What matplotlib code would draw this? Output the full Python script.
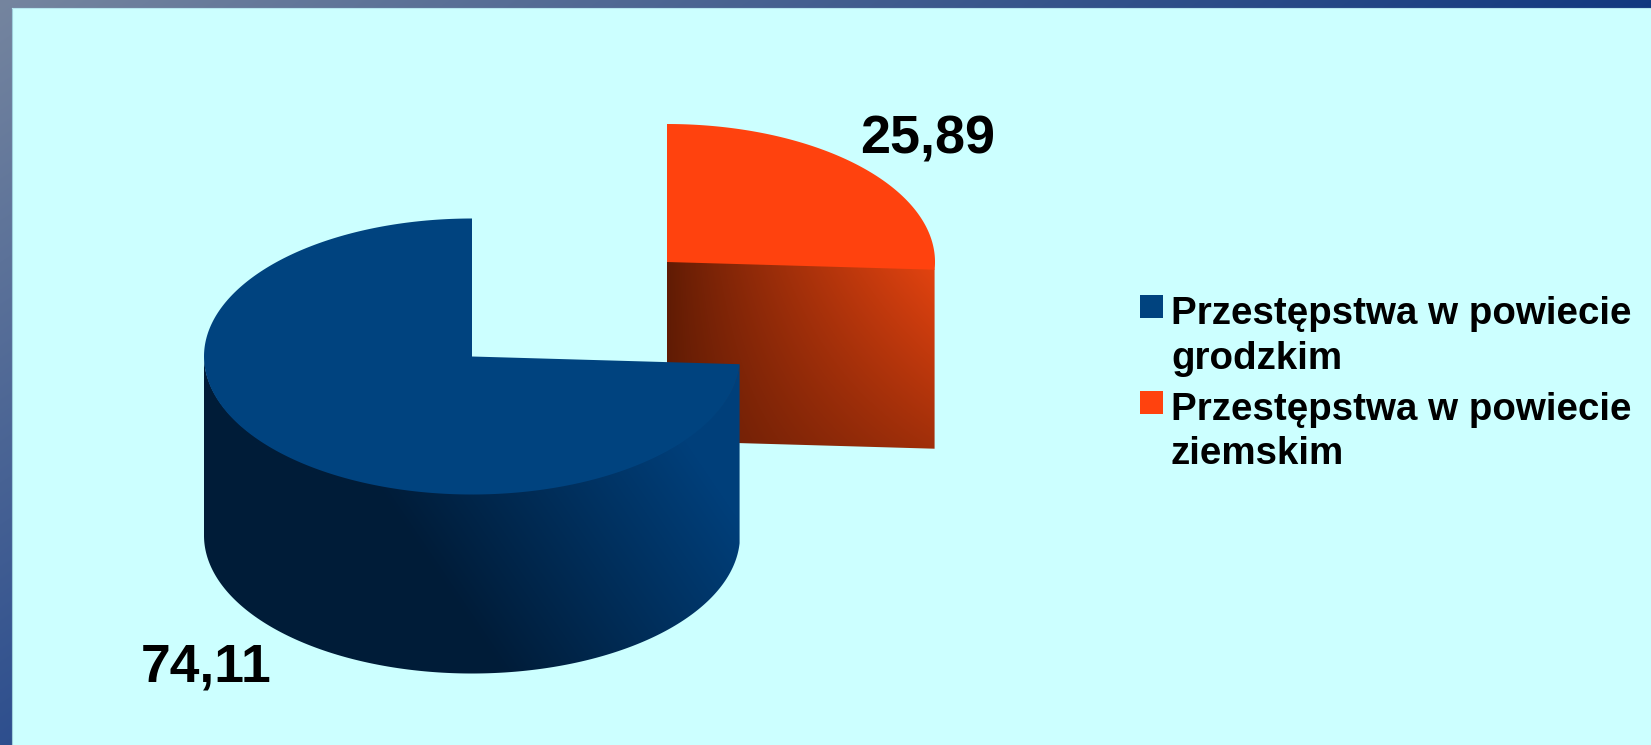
import numpy as np
import matplotlib
matplotlib.use('Agg')
import matplotlib.pyplot as plt
from matplotlib.patches import Polygon, Rectangle

# Dane
categories = ['Przestępstwa w powiecie\ngrodzkim', 'Przestępstwa w powiecie\nziemskim']
values = [74.11, 25.89]
value_labels = ['74,11', '25,89']
top_colors = ['#00437f', '#ff420e']

W, H = 1651, 745
RX, RY, DEPTH = 268, 138, 179
centers = [(472, 356.5), (667, 262)]

plt.rcParams['font.family'] = ['Liberation Sans', 'DejaVu Sans']

fig = plt.figure(figsize=(W / 100, H / 100), dpi=100)
ax = fig.add_axes([0, 0, 1, 1])
ax.set_xlim(0, W)
ax.set_ylim(H, 0)
ax.axis('off')

xx, yy = np.meshgrid(np.arange(W) + 0.5, np.arange(H) + 0.5)


def hex_rgb(c):
    return np.array(matplotlib.colors.to_rgb(c))


def blend(c0, c1, t):
    return hex_rgb(c0) + (hex_rgb(c1) - hex_rgb(c0)) * t[..., None]


def arc(cx, cy, a0, a1, dy=0):
    a = np.radians(np.linspace(a0, a1, 300))
    return np.column_stack([cx + RX * np.cos(a), cy - RY * np.sin(a) + dy])


def shaded(img, pts, z):
    poly = Polygon(pts, closed=True, transform=ax.transData, fc='none', ec='none')
    ax.add_patch(poly)
    im = ax.imshow(img, extent=(0, W, H, 0), aspect='auto', interpolation='nearest', zorder=z)
    im.set_clip_path(poly)


# Tło: gradient ramki i jasny panel
c0, c1, c2 = hex_rgb('#75859f'), hex_rgb('#12387f'), hex_rgb('#2e4f8e')
frame = c0 + (c1 - c0) * (xx / W)[..., None] + (c2 - c0) * (yy / H)[..., None]
ax.imshow(np.clip(frame, 0, 1), extent=(0, W, H, 0), aspect='auto', interpolation='bilinear', zorder=0)
ax.add_patch(Rectangle((12, 8), W - 12, H - 8, fc='#ccffff', ec='none', zorder=1))
ax.plot([12, 12], [8, H], color='#9fd0dc', lw=0.8, zorder=1)
ax.plot([12, W], [8, 8], color='#b5e6ee', lw=0.8, zorder=1)

# Kąty wycinków
span = values[1] / sum(values) * 360
end_a = 90 - span

# Wycinek czerwony
cx, cy = centers[1]
p = arc(cx, cy, end_a, end_a)[0]
wall = [(cx, cy - 1), (p[0], p[1] - 1), (p[0], p[1] + DEPTH), (cx, cy + DEPTH)]
t = np.clip((xx - cx) / RX, 0, 1) ** 0.85 * np.clip(1 - 0.5 * (yy - p[1]) / DEPTH, 0, 1)
shaded(blend('#5f1b04', '#e24310', t), wall, 2)
ax.add_patch(Polygon(np.vstack([[cx, cy], arc(cx, cy, 90, end_a)]), fc=top_colors[1], ec='none', zorder=3))

# Wycinek niebieski
cx, cy = centers[0]
rim = np.vstack([arc(cx, cy, 180, 360 + end_a, -1), arc(cx, cy, 360 + end_a, 180, DEPTH)])
t = np.clip((xx - 385) / 340 - (yy - 400) / 500 + 0.2, 0, 1)
shaded(blend('#001c38', '#003f7a', t), rim, 4)
ax.add_patch(Polygon(np.vstack([[cx, cy], arc(cx, cy, end_a, end_a - (360 - span))]), fc=top_colors[0], ec='none', zorder=5))

ax.set_xlim(0, W)
ax.set_ylim(H, 0)

# Etykiety wartości
ax.text(141, 681, value_labels[0], fontsize=38.5, fontweight='bold', ha='left', va='baseline', color='black', zorder=6)
ax.text(860, 154, value_labels[1], fontsize=38.8, fontweight='bold', ha='left', va='baseline', color='black', zorder=6)

# Legenda
swatch_y = [295, 391]
text_y = [324.5, 419.5]
for col, lab, sy, ty in zip(top_colors, categories, swatch_y, text_y):
    ax.add_patch(Rectangle((1140, sy), 23, 23, fc=col, ec='none', zorder=6))
    ax.text(1171, ty, lab.split('\n')[0], fontsize=27.7, fontweight='bold', ha='left', va='baseline', color='black', zorder=6)
    ax.text(1171, ty + 44.5, lab.split('\n')[1], fontsize=27.7, fontweight='bold', ha='left', va='baseline', color='black', zorder=6)

fig.savefig('out.png', dpi=100)
